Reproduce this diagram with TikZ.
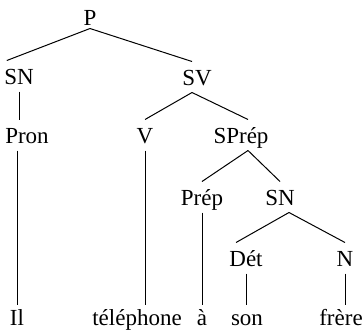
\documentclass[tikz,border=0pt]{standalone}
\usepackage{fontspec}
\setmainfont{Liberation Serif}
\begin{document}
\begin{tikzpicture}[x=0.5pt, y=-0.5pt, line width=0.5pt,
    cat/.style={anchor=base, inner xsep=0.5pt, inner ysep=3.5pt,
                text height=8pt, text depth=0pt,
                font=\fontsize{11.5}{13}\selectfont},
    leaf/.style={cat, inner ysep=2pt}]
    \useasboundingbox (0,0) rectangle (362,333);

    % Categories, one row per level
    \node[cat, inner ysep=1.5pt] (p) at (90,25) {P};
    \node[cat] (sn1)   at (19,84)   {SN};
    \node[cat] (sv)    at (197,85)  {SV};
    \node[cat] (pron)  at (27,143)  {Pron};
    \node[cat] (v)     at (145,143) {V};
    \node[cat] (sprep) at (241,143) {SPrép};
    \node[cat] (prep)  at (202,205) {Prép};
    \node[cat] (sn2)   at (280,205) {SN};
    \node[cat] (det)   at (246,266) {Dét};
    \node[cat] (n)     at (345,266) {N};

    % Words
    \node[leaf] (il)    at (17,325)  {Il};
    \node[leaf] (tel)   at (137,325) {téléphone};
    \node[leaf] (a)     at (202,325) {à};
    \node[leaf] (son)   at (247,325) {son};
    \node[leaf] (frere) at (341,325) {frère};

    % Branches
    \draw (p.south) -- ([xshift=2pt]sn1.north west);
    \draw (p.south) -- ([xshift=-2.5pt]sv.north);
    \draw ([xshift=-2.5pt]sv.south) -- (v.north);
    \draw ([xshift=-2.5pt]sv.south) -- ([xshift=3.5pt]sprep.north);
    \draw ([xshift=3.5pt]sprep.south) -- (prep.north);
    \draw ([xshift=3.5pt]sprep.south) -- (sn2.north);
    \draw ([xshift=4.5pt]sn2.south) -- ([xshift=-5pt]det.north);
    \draw ([xshift=4.5pt]sn2.south) -- (n.north);

    % Unary branches down to the words
    \draw (sn1.south) -- (sn1.south |- pron.north);
    \draw (il.north |- pron.south) -- (il.north);
    \draw (v.south) -- (v.south |- tel.north);
    \draw (prep.south) -- (prep.south |- a.north);
    \draw (det.south) -- (det.south |- son.north);
    \draw (n.south) -- (n.south |- frere.north);
\end{tikzpicture}
\end{document}
